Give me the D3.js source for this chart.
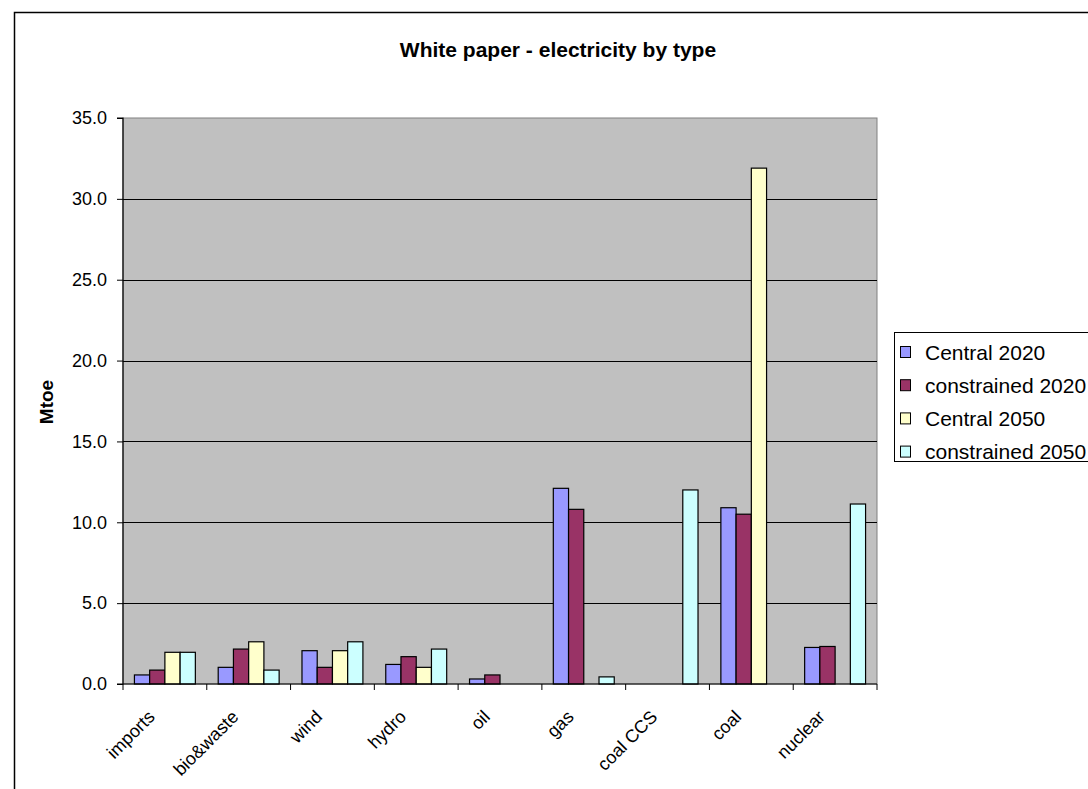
<!DOCTYPE html>
<html><head><meta charset="utf-8">
<script src="https://cdn.jsdelivr.net/npm/d3@7"></script>
<style>body{margin:0;background:#fff;} svg{display:block;font-family:"Liberation Sans",Arial,sans-serif;}</style>
</head><body>
<svg id="c" width="1088" height="789"></svg>
<script>
const categories = ["imports","bio&waste","wind","hydro","oil","gas","coal CCS","coal","nuclear"];
const seriesNames = ["Central 2020","constrained 2020","Central 2050","constrained 2050"];
const central2020 =     [0.56, 1.03, 2.06, 1.21, 0.31, 12.1, 0,    10.9, 2.26];
const constrained2020 = [0.86, 2.16, 1.03, 1.69, 0.56, 10.8, 0,    10.5, 2.32];
const central2050 =     [1.96, 2.61, 2.06, 1.03, 0,    0,    0,    31.9, 0];
const constrained2050 = [1.96, 0.86, 2.61, 2.16, 0,    0.44, 12.0, 0,    11.13];
const yTicks = [0,5,10,15,20,25,30,35];
const colors = ["#9999FF","#993366","#FFFFCC","#CCFFFF"];
const seriesValues = [central2020, constrained2020, central2050, constrained2050];

const svg = d3.select("#c");
svg.append("path").attr("d","M14.5,789 L14.5,12.5 L1088,12.5").attr("fill","none").attr("stroke","#000").attr("stroke-width",1.5);

const L=123, R=877, T=118, B=684;
const x = d3.scaleBand().domain(categories).range([L,R]);
const y = d3.scaleLinear().domain([0,35]).range([B,T]);
const bw = x.bandwidth()/5.5;
const xs = d3.scaleBand().domain(d3.range(4)).range([0.75*bw, 4.75*bw]);

svg.append("rect").attr("x",L).attr("y",T).attr("width",R-L).attr("height",B-T).attr("fill","#C0C0C0").attr("stroke","#808080").attr("stroke-width",1);

svg.append("g").selectAll("line").data(yTicks.filter(d=>d>0 && d<35)).join("line")
  .attr("x1",L).attr("x2",R).attr("y1",d=>Math.round(y(d))+0.5).attr("y2",d=>Math.round(y(d))+0.5)
  .attr("stroke","#000").attr("stroke-width",1);

seriesValues.forEach((vals,si)=>{
  svg.append("g").selectAll("rect").data(vals.map((v,i)=>({v,c:categories[i]})).filter(d=>d.v>0)).join("rect")
    .attr("x",d=>x(d.c)+xs(si)).attr("width",xs.bandwidth())
    .attr("y",d=>y(d.v)).attr("height",d=>B-y(d.v))
    .attr("fill",colors[si]).attr("stroke","#000").attr("stroke-width",1.2);
});

const ya = d3.axisLeft(y).tickValues(yTicks).tickFormat(d3.format(".1f")).tickSize(6).tickPadding(10);
const gy = svg.append("g").attr("transform",`translate(${L},0)`).call(ya);
gy.select(".domain").attr("stroke","#000").attr("stroke-width",1.2).attr("d",`M-6,${T}H0V${B}H-6`);
gy.selectAll("text").attr("font-size",18).attr("fill","#000").style("font-family","'Liberation Sans',Arial,sans-serif");
gy.selectAll(".tick line").attr("stroke","#000");

svg.append("line").attr("x1",L).attr("x2",R).attr("y1",B).attr("y2",B).attr("stroke","#000").attr("stroke-width",1.2);
const bounds = categories.map(c=>x(c)).concat([R]);
svg.append("g").selectAll("line").data(bounds).join("line")
  .attr("x1",d=>d).attr("x2",d=>d).attr("y1",B).attr("y2",B+6).attr("stroke","#000");
svg.append("g").selectAll("text").data(categories).join("text")
  .attr("transform",d=>`translate(${x(d)+x.bandwidth()/2-9},${B+34}) rotate(-45)`)
  .attr("text-anchor","end").attr("font-size",18).text(d=>d);

svg.append("text").attr("x",558).attr("y",57).attr("text-anchor","middle").attr("font-size",21).attr("font-weight","bold").text("White paper - electricity by type");
svg.append("text").attr("transform","translate(52.5,402) rotate(-90)").attr("text-anchor","middle").attr("font-size",19).attr("font-weight","bold").text("Mtoe");

const lg = svg.append("g");
lg.append("rect").attr("x",894.5).attr("y",332.5).attr("width",220).attr("height",129).attr("fill","#fff").attr("stroke","#000").attr("stroke-width",1);
seriesNames.forEach((n,i)=>{
  const yy = 352 + i*33.2;
  lg.append("rect").attr("x",900.5).attr("y",yy-5.5).attr("width",10).attr("height",11).attr("fill",colors[i]).attr("stroke","#000").attr("stroke-width",1);
  lg.append("text").attr("x",925).attr("y",yy).attr("dy","0.36em").attr("font-size",21).text(n);
});
</script>
</body></html>
